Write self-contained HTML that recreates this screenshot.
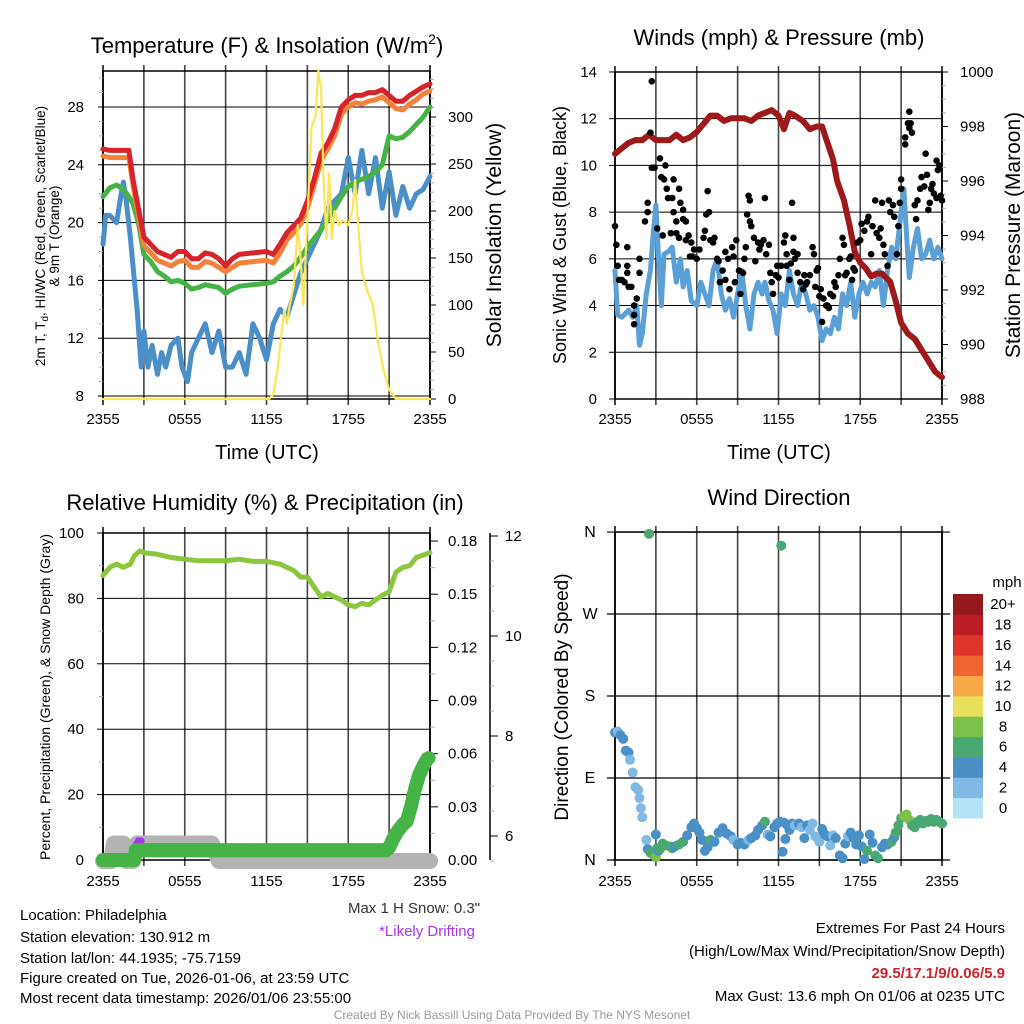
<!DOCTYPE html>
<html><head><meta charset="utf-8"><style>
html,body{margin:0;padding:0;background:#fff;}
svg{display:block;font-family:"Liberation Sans",sans-serif;}
</style></head><body>
<svg id="fig" width="1024" height="1024" viewBox="0 0 1024 1024" xmlns="http://www.w3.org/2000/svg">
<rect width="1024" height="1024" fill="#fff"/>
<g id="p1"></g>
<g id="p2"></g>
<g id="p3"></g>
<g id="p4"></g>
<g font-size="22" text-anchor="middle" fill="#000">
<text x="267" y="53">Temperature (F) &amp; Insolation (W/m<tspan font-size="14" dy="-9">2</tspan><tspan dy="9">)</tspan></text>
<text x="779" y="45">Winds (mph) &amp; Pressure (mb)</text>
<text x="265" y="510">Relative Humidity (%) &amp; Precipitation (in)</text>
<text x="779" y="505">Wind Direction</text>
</g>
<g font-size="15" fill="#000">
<text x="20" y="920">Location: Philadelphia</text>
<text x="20" y="942">Station elevation: 130.912 m</text>
<text x="20" y="963">Station lat/lon: 44.1935; -75.7159</text>
<text x="20" y="983">Figure created on Tue, 2026-01-06, at 23:59 UTC</text>
<text x="20" y="1003">Most recent data timestamp: 2026/01/06 23:55:00</text>
<text x="414" y="913" text-anchor="middle" fill="#333">Max 1 H Snow: 0.3"</text>
<text x="427" y="936" text-anchor="middle" fill="#a335ee">*Likely Drifting</text>
<g text-anchor="end">
<text x="1005" y="933">Extremes For Past 24 Hours</text>
<text x="1005" y="956">(High/Low/Max Wind/Precipitation/Snow Depth)</text>
<text x="1005" y="978" fill="#cc2229" font-weight="bold">29.5/17.1/9/0.06/5.9</text>
<text x="1005" y="1001">Max Gust: 13.6 mph On 01/06 at 0235 UTC</text>
</g>
<text x="512" y="1019" text-anchor="middle" font-size="12" fill="#999">Created By Nick Bassill Using Data Provided By The NYS Mesonet</text>
</g>
</svg>
<script>
// ---------- data ----------
const xTickLabels = ["2355","0555","1155","1755","2355"];
const tempHours = [0,0.5,1,1.5,1.9,2.2,2.6,3,3.5,4,4.5,5,5.5,6,6.5,7,7.5,8,8.5,9,9.5,10,11,12,12.5,13,13.5,14,14.5,15,15.5,16,16.5,17,17.5,18,18.5,19,19.5,20,20.5,21,21.5,22,22.5,23,23.5,24];
const tempRed = [25.1,25,25,25,25,23,21,19,18.5,18,17.8,17.6,18,18,17.5,17.5,17.9,17.8,17.5,17,17.5,17.8,17.9,18,17.8,18.5,19.3,19.8,20.3,21.5,23,24.8,25.5,26.5,28,28.5,28.8,28.8,29,29,29.2,28.8,28.4,28.4,28.8,29.1,29.4,29.6];
const tempOrange = [24.6,24.5,24.5,24.5,24.5,22.6,20.5,18.4,17.9,17.4,17.2,17,17.3,17.4,16.9,16.9,17.3,17.2,16.9,16.6,16.9,17.2,17.3,17.4,17.2,17.9,18.8,19.3,19.9,21,22.6,24.3,25.1,26,27.5,28,28.3,28.2,28.4,28.5,28.7,28.3,27.9,27.8,28.2,28.5,28.9,29.1];
const tempGreen = [21.8,22.4,22.6,22.3,21.8,21.3,20,17.8,17.3,16.6,16.3,15.9,16,15.8,15.4,15.5,15.7,15.6,15.5,15.1,15.4,15.6,15.7,15.8,15.9,16.3,16.6,17,17.6,18.3,18.9,19.5,20.2,21,21.8,22.5,22.8,23,23.2,23.5,24,26,25.8,25.9,26.3,26.8,27.3,28];
const dewHours = [0,0.2,0.5,1,1.3,1.5,1.7,2,2.5,2.8,3,3.3,3.6,4,4.3,4.6,5,5.5,5.8,6.2,6.5,7,7.5,8,8.5,9,9.5,10,10.5,11,11.5,12,12.5,13,13.5,14,14.5,15,15.5,16,16.5,17,17.5,18,18.5,19,19.5,20,20.5,21,21.5,22,22.5,23,23.5,24];
const dewBlue = [18.5,20.5,20.5,20,21.8,22.8,21.5,19,14,10,12.5,10,11.5,9.5,11,10,11.5,12,10,9,11,12,13,11,12.5,10,10,11,9.5,13,12,10.5,13,14,13.5,15,16.5,17.5,18.5,19.5,21,21.5,22,24.5,22,25,22,24.5,21,23.5,20.5,22.5,21,22,22.3,23.2];
const solarHours = [0,12.2,12.5,12.8,13.1,13.3,13.5,13.7,14,14.3,14.5,14.7,15,15.3,15.6,15.8,16,16.2,16.4,16.6,16.8,17,17.3,17.6,18,18.3,18.5,18.7,19,19.4,19.8,20.2,20.6,21,21.5,24];
const solarVals = [0,0,5,30,70,95,80,100,120,185,150,100,190,290,300,350,330,230,170,240,170,200,185,190,185,200,233,190,135,115,100,60,30,10,0,0];

const presHours = [0,0.5,1,1.5,2,2.5,3,3.5,4,4.5,5,5.5,6,6.5,7,7.5,8,8.5,9,9.5,10,10.5,11,11.5,12,12.4,12.8,13.2,13.8,14.3,14.8,15.2,15.6,16,16.3,16.8,17.2,17.6,18,18.4,18.8,19.2,19.6,20.2,20.6,21,21.5,22,22.5,23,23.5,24];
const presVals = [997,997.2,997.4,997.5,997.5,997.7,997.5,997.5,997.5,997.7,997.5,997.6,997.8,998.1,998.4,998.4,998.2,998.3,998.3,998.3,998.2,998.4,998.5,998.6,998.4,997.9,998.5,998.4,998.2,997.9,998,998,997.4,996.8,996,995.3,994.4,993.4,993,992.8,992.5,992.6,992.6,992.3,991.6,990.8,990.4,990.2,989.8,989.4,989,988.8];
const windHours = [0,0.2,0.5,1,1.3,1.6,1.8,2,2.3,2.6,2.8,3,3.2,3.4,3.6,3.9,4.2,4.5,4.8,5,5.3,5.6,6,6.3,6.6,6.9,7.2,7.5,7.8,8.1,8.4,8.7,9,9.3,9.6,9.9,10.2,10.5,10.8,11,11.3,11.6,11.9,12.2,12.5,12.8,13.1,13.4,13.7,14,14.3,14.6,14.9,15.2,15.5,15.8,16.1,16.4,16.7,17,17.3,17.6,17.9,18.2,18.5,18.8,19.1,19.4,19.7,20,20.3,20.6,20.9,21.2,21.4,21.6,21.9,22.2,22.5,22.8,23.1,23.4,23.7,24];
const windVals = [5.5,3.6,3.5,3.8,3.5,4,2.3,2.8,4.5,5.5,7,8.3,6,4,6.2,6.3,6.5,5,6,4.8,5.5,4.2,4,5,4.5,4,5.5,6,4.5,3.8,4.3,3.5,4.5,5.5,4,3,4.5,5,4.5,5,4.2,3.8,2.8,4.5,4,5.5,4.5,4,5,4.5,3.8,4,3.5,2.5,3,2.8,3.5,3,4.5,4,5,3.5,4.5,5,4.5,5,4.8,5.5,4,5.5,6.5,6,7.5,9,7,5.2,6.5,7.3,6,6.2,6.8,6,6.5,6];
const gustHours = [0,0.1,0.2,0.3,0.5,0.7,0.9,0.9,0.9,1,1.2,1.4,1.4,1.4,1.6,1.8,1.8,2.2,2.4,2.4,2.6,2.7,2.7,2.9,3.1,3.3,3.4,3.6,3.5,3.7,3.8,3.9,4.1,4.2,4.3,4.3,4.5,4.5,4.7,4.7,4.8,5,5,5.2,5.2,5.4,5.5,5.6,5.7,5.8,6,6.2,6.5,6.6,6.7,6.8,6.9,7,7.2,7.3,7.5,7.6,7.7,7.9,8.1,8.1,8.3,8.4,8.6,8.7,8.8,8.9,9.1,9.2,9.4,9.5,9.6,9.7,9.8,9.9,9.9,10,10.2,10.3,10.5,10.6,10.7,10.9,11,11.1,11.3,11.4,11.5,11.6,11.8,11.9,12,12.2,12.4,12.5,12.6,12.6,12.8,12.9,13,13.1,13.1,13.2,13.4,13.4,13.6,13.8,13.9,14,14.1,14.3,14.5,14.6,14.7,14.8,14.9,15,15.1,15.2,15.3,15.5,15.6,15.7,15.8,16,16.1,16.2,16.4,16.5,16.7,16.8,16.9,17,17.2,17.3,17.4,17.5,17.6,17.8,18,18.1,18.3,18.5,18.6,18.8,18.9,19.1,19.2,19.4,19.5,19.6,19.7,19.8,20,20.1,20.2,20.4,20.5,20.7,20.8,20.9,21,21,21.3,21.3,21.5,21.6,21.6,21.7,21.8,22,22.1,22.2,22.4,22.5,22.7,22.8,22.9,23,23.1,23.2,23.3,23.4,23.6,23.6,23.7,23.8,23.9,24];
const gustVals = [7.4,6.6,5.7,5.1,5.1,5,6.5,5.7,5.4,4.8,4.8,4,3.6,3.2,4.3,5.4,6,7.6,8,8.4,11.4,13.6,9.9,9.9,7.3,10.3,9.5,9.4,7,10,9,8.6,7.1,8.6,9.4,8,7.1,7.6,6.9,9,8.4,8.1,7.7,6.8,7.6,7,6.1,6.7,6.1,6.4,6,6.4,6.9,7.2,7.9,8.9,8,6.8,6.7,6.9,6,5.9,5,5.5,6.3,5.1,6,4.7,6.5,6.1,5,6.8,5.5,4.5,5.4,6,6.5,7.9,8.7,8.5,7.6,7.4,6.9,5.9,6.7,6.4,6.6,6.8,8.6,6.2,6.6,5.4,5,4.5,5.3,5.7,5.2,5.7,6.7,7,6.2,5.7,5.1,5.8,8.4,6.9,6.3,6,6.2,5.4,5,4.7,5.3,4.9,5,5.3,6.5,6.2,4.8,5.5,5.6,4.4,4.7,3.3,4.3,4,4,3.9,4.5,4.4,5,4.8,5.3,6,6.9,6.6,5.3,5.4,6,6.1,5.1,5.6,5.5,6.7,6.8,7.5,7.2,7.6,7.8,6.2,7.4,8.5,7.1,6.9,7.3,8.4,6.6,6.2,5.7,8.5,8,8.3,7.8,6.2,7.4,8.4,9,9.4,10.9,11.2,11.8,11.6,12.3,11.8,11.4,8.3,7.7,8.5,9,9.5,9.1,10.5,9.6,8.1,8.4,9,9.2,8.8,8.6,10.2,9.8,10,8.7,8.5];

const rhHours = [0,0.5,1,1.5,2,2.3,2.7,3,4,5,6,7,8,9,10,11,12,13,14,14.5,15,15.5,16,16.5,17,17.5,18,18.5,19,19.5,20,20.5,21,21.5,22,22.5,23,24];
const rhVals = [87,89.5,90.5,89.5,90.5,93,94.5,94,93.5,92.5,92,91.5,91.5,91.5,92,91.3,91.3,90.5,88.5,86.5,86.5,83.5,80.5,81.5,80.5,79.5,78,77.5,78.5,78,79.5,81,82,88,89.5,90,92.5,94];
const precipHours = [0,0.5,1,1.5,2,2.3,2.4,3,4,5,6,7,8,9,10,11,12,13,14,15,16,17,18,19,20,20.8,21,21.3,21.6,22,22.3,22.6,22.9,23.2,23.5,23.8,24];
const precipVals = [0,0,0,0,0,0,0.0055,0.0055,0.0055,0.0055,0.0055,0.0055,0.0055,0.0055,0.0055,0.0055,0.0055,0.0055,0.0055,0.0055,0.0055,0.0055,0.0055,0.0055,0.0055,0.0055,0.007,0.012,0.016,0.02,0.022,0.03,0.04,0.048,0.053,0.057,0.058];
const snowHours = [0,0.6,0.8,1.5,1.7,2.2,2.5,8.0,8.5,24];
const snowVals = [5.5,5.5,5.85,5.85,5.5,5.5,5.85,5.85,5.5,5.5];

const dirHours = [0,0.2,0.4,0.6,0.8,1.0,1.1,1.3,1.5,1.7,1.8,1.9,2.0,2.3,2.4,2.5,2.6,2.8,3.0,3.0,3.1,3.2,3.3,3.5,3.7,4.0,4.2,4.4,4.7,5.0,5.3,5.6,5.8,6.0,6.2,6.4,6.6,6.8,7.0,7.3,7.6,7.9,8.2,8.5,8.7,9.0,9.2,9.5,9.8,10.0,10.3,10.5,10.8,11.0,11.2,11.4,11.7,11.9,12.1,12.2,12.3,12.4,12.5,12.6,12.8,13.0,13.2,13.5,13.7,13.9,14.1,14.3,14.5,14.7,15.0,15.2,15.4,15.6,15.8,16.0,16.2,16.5,16.7,16.9,17.1,17.3,17.5,17.7,17.9,18.1,18.3,18.5,18.7,18.9,19.1,19.3,19.6,19.8,20.0,20.3,20.5,20.6,20.8,21.0,21.2,21.4,21.6,21.8,22.0,22.2,22.4,22.6,22.8,23.0,23.2,23.4,23.6,23.8,24.0];
const dirDeg = [140,141,137,133,120,118,110,96,80,77,68,57,47,22,12,358,8,6,3,28,13,10,12,18,16,15,13,15,17,20,27,36,40,35,30,22,10,14,22,20,30,35,29,26,22,17,19,17,22,24,27,33,38,42,28,26,36,40,42,345,9,41,23,39,33,40,38,40,36,24,38,33,40,26,20,34,28,26,16,27,24,5,2,18,26,30,24,17,27,15,1,10,28,19,5,2,14,18,17,20,25,30,38,46,48,50,44,38,36,42,44,40,43,42,45,42,44,42,40];
const dirSpeed = [4,2,4,4,4,4,2,2,2,2,2,2,2,2,4,6,6,6,8,4,6,4,6,6,6,6,6,4,6,6,4,4,4,4,4,4,4,4,6,4,4,4,4,4,2,4,4,4,2,4,4,4,4,6,2,4,4,4,4,6,4,4,4,4,4,4,2,4,2,4,4,2,2,2,2,4,4,4,2,2,4,4,4,4,2,4,4,4,4,4,4,6,4,4,6,6,4,4,4,6,4,6,6,6,8,8,8,6,6,6,6,6,6,6,6,6,6,6,6];
const speedBins = ["0","2","4","6","8","10","12","14","16","18","20+"];
const speedColors = ["#b5e3f7","#80bae4","#4a8fc5","#4aa872","#7cc24a","#e8e05c","#f6a946","#ef6431","#dd3529","#bc1c24","#93191c"];

// ---------- helpers ----------
const NS="http://www.w3.org/2000/svg";
function mk(parent,tag,attrs,text){const e=document.createElementNS(NS,tag);for(const k in attrs)e.setAttribute(k,attrs[k]);if(text!==undefined)e.textContent=text;parent.appendChild(e);return e;}
const PX=13.625;
const TFS=15;
function tx(x0,h){return x0+h*PX;}
function line(parent,hours,vals,x0,ys,color,w,name){
  const pts=hours.map((h,i)=>tx(x0,h).toFixed(1)+","+ys(vals[i]).toFixed(1)).join(" ");
  const e=mk(parent,"polyline",{points:pts,fill:"none",stroke:color,"stroke-width":w,"stroke-linejoin":"round","stroke-linecap":"round"});
  
  
  return e;
}
function frame(g,x0,top,bot,hLines,name){
  for(let i=0;i<=8;i++){const x=x0+i*327/8;
    const v=mk(g,"line",{x1:x,x2:x,y1:top-6,y2:bot+6,stroke:"#444","stroke-width":i%8==0?2:1.6});
    
    }
  hLines.forEach(y=>{const l=mk(g,"line",{x1:x0,x2:x0+327,y1:y,y2:y,stroke:"#000","stroke-width":1});
    
    });
  const r=mk(g,"rect",{x:x0,y:top,width:327,height:bot-top,fill:"none",stroke:"#000","stroke-width":1.5});
  
  
}
function xlabels(g,x0,y,fs){
  xTickLabels.forEach((t,i)=>{const e=mk(g,"text",{x:x0+i*327/4,y:y,"font-size":fs,"text-anchor":"middle"},t);
    
    });
}
function ylab(g,x,y,t,anchor,fs){const e=mk(g,"text",{x:x,y:y+5,"font-size":fs||TFS,"text-anchor":anchor},t);
  
  return e;}
function rot(g,x,y,t,fs,name){const e=mk(g,"text",{x:0,y:0,"font-size":fs,"text-anchor":"middle",transform:`translate(${x},${y}) rotate(-90)`},t);
  
  return e;}

// ---------- panel 1 ----------
(function(){
  const g=document.getElementById("p1"),x0=103;
  const yT=v=>396-(v-8)*14.45, yS=v=>399-v*0.94;
  const tempTicks=[8,12,16,20,24,28];
  frame(g,x0,71,399,tempTicks.map(yT),"temperature");
  tempTicks.forEach(v=>{ylab(g,84,yT(v),String(v),"end");mk(g,"line",{x1:x0-5,x2:x0,y1:yT(v),y2:yT(v),stroke:"#000"});});
  for(let v=9;v<31;v++){if(v%4)mk(g,"line",{x1:x0-4,x2:x0,y1:yT(v),y2:yT(v),stroke:"#aaa"});}
  [0,50,100,150,200,250,300].forEach(v=>{ylab(g,448,yS(v),String(v),"start");mk(g,"line",{x1:430,x2:436,y1:yS(v),y2:yS(v),stroke:"#000"});});
  for(let v=10;v<350;v+=10){if(v%50)mk(g,"line",{x1:430,x2:434,y1:yS(v),y2:yS(v),stroke:"#aaa"});}
  xlabels(g,x0,424,TFS);
  const t=mk(g,"text",{x:267,y:459,"font-size":20,"text-anchor":"middle"},"Time (UTC)");
  
  rot(g,45,236,"2m T",13.5,"y-axis-title-left").innerHTML="2m T, T<tspan font-size='10' dy='3'>d</tspan><tspan dy='-3'>, HI/WC (Red, Green, Scarlet/Blue)</tspan>";
  rot(g,59,236,"& 9m T (Orange)",13.5,"y-axis-title-left-2");
  rot(g,501,235,"Solar Insolation (Yellow)",21,"y-axis-title-right");
  line(g,dewHours,dewBlue,x0,yT,"#4a8fc8",5,"dewpoint-line");
  line(g,tempHours,tempGreen,x0,yT,"#46b347",5,"wetbulb-line");
  line(g,tempHours,tempOrange,x0,yT,"#f5823b",5,"temp-9m-line");
  line(g,tempHours,tempRed,x0,yT,"#d8232a",5,"temp-2m-line");
  line(g,solarHours,solarVals,x0,yS,"#fde555",2.2,"solar-line");
})();

// ---------- panel 2 ----------
(function(){
  const g=document.getElementById("p2"),x0=615;
  const yW=v=>399-v*23.36, yP=v=>399-(v-988)*27.25;
  const wTicks=[0,2,4,6,8,10,12,14];
  frame(g,x0,72,399,wTicks.map(yW),"wind");
  wTicks.forEach(v=>{ylab(g,597,yW(v),String(v),"end");mk(g,"line",{x1:x0-6,x2:x0,y1:yW(v),y2:yW(v),stroke:"#000"});});
  [988,990,992,994,996,998,1000].forEach(v=>{ylab(g,960,yP(v),String(v),"start");mk(g,"line",{x1:942,x2:948,y1:yP(v),y2:yP(v),stroke:"#000"});});
  for(let v=988.5;v<1000;v+=0.5){if(v%2)mk(g,"line",{x1:942,x2:946,y1:yP(v),y2:yP(v),stroke:"#aaa"});}
  xlabels(g,x0,424,TFS);
  const t=mk(g,"text",{x:779,y:459,"font-size":20,"text-anchor":"middle"},"Time (UTC)");
  
  rot(g,566,235,"Sonic Wind & Gust (Blue, Black)",18,"y-axis-title-left");
  rot(g,1020,235,"Station Pressure (Maroon)",21,"y-axis-title-right");
  line(g,windHours,windVals,x0,yW,"#5a9fd6",5,"wind-speed-line");
  line(g,presHours,presVals,x0,yP,"#9e1a1a",6,"pressure-line");
  gustHours.forEach((h,i)=>{const c=mk(g,"circle",{cx:tx(x0,h),cy:yW(gustVals[i]),r:3.3,fill:"#000"});
    
    });
})();

// ---------- panel 3 ----------
(function(){
  const g=document.getElementById("p3"),x0=103;
  const yR=v=>860-v*3.27, yPr=v=>860-v*1772, ySn=v=>836-(v-6)*50;
  const rTicks=[0,20,40,60,80,100];
  frame(g,x0,533,860,rTicks.map(yR),"humidity");
  rTicks.forEach(v=>{ylab(g,84,yR(v),String(v),"end");mk(g,"line",{x1:x0-6,x2:x0,y1:yR(v),y2:yR(v),stroke:"#000"});});
  for(let v=10;v<100;v+=20)mk(g,"line",{x1:x0-4,x2:x0,y1:yR(v),y2:yR(v),stroke:"#aaa"});
  [0,0.03,0.06,0.09,0.12,0.15,0.18].forEach(v=>{ylab(g,448,yPr(v),v.toFixed(2),"start");mk(g,"line",{x1:430,x2:438,y1:yPr(v),y2:yPr(v),stroke:"#000"});});
  for(let v=0.015;v<0.18;v+=0.03)mk(g,"line",{x1:430,x2:435,y1:yPr(v),y2:yPr(v),stroke:"#aaa"});
  mk(g,"line",{x1:490,x2:490,y1:533,y2:860,stroke:"#000","stroke-width":1.5});
  [6,8,10,12].forEach(v=>{ylab(g,505,ySn(v),String(v),"start");mk(g,"line",{x1:490,x2:498,y1:ySn(v),y2:ySn(v),stroke:"#000"});});
  for(let v=5.5;v<12.5;v+=0.5){if(v%2)mk(g,"line",{x1:490,x2:494,y1:ySn(v),y2:ySn(v),stroke:"#aaa"});}
  xlabels(g,x0,886,TFS);
  rot(g,50,697,"Percent, Precipitation (Green), & Snow Depth (Gray)",14,"y-axis-title-left");
  line(g,snowHours,snowVals,x0,ySn,"#b3b3b3",16,"snow-depth-line");
  const pu=mk(g,"polyline",{points:`${tx(x0,2.3)},${ySn(5.75)} ${tx(x0,2.6)},${ySn(5.9)} ${tx(x0,2.8)},${ySn(5.9)}`,fill:"none",stroke:"#a335ee","stroke-width":7,"stroke-linecap":"round"});
  
  for(let i=0;i<precipHours.length-1;i++){
    const n=Math.max(2,Math.round((precipHours[i+1]-precipHours[i])*12));
    for(let k=0;k<n;k++){const f=k/n;const h=precipHours[i]+(precipHours[i+1]-precipHours[i])*f;
      const v=precipVals[i]+(precipVals[i+1]-precipVals[i])*f;
      const c=mk(g,"circle",{cx:tx(x0,h),cy:yPr(v),r:7,fill:"#46b347"});
      
      }
  }
  line(g,rhHours,rhVals,x0,yR,"#8cc63f",5,"humidity-line");
})();

// ---------- panel 4 ----------
(function(){
  const g=document.getElementById("p4"),x0=615;
  const yD=d=>860-d*0.911;
  const dTicks=[0,90,180,270,360], dLabels=["N","E","S","W","N"];
  frame(g,x0,532,860,[],"direction");
  dTicks.forEach((d,i)=>{const l=mk(g,"line",{x1:607,x2:950,y1:yD(d),y2:yD(d),stroke:"#000","stroke-width":1.2});
    
    ylab(g,590,yD(d),dLabels[i],"middle",16);});
  xlabels(g,x0,886,TFS);
  rot(g,568,697,"Direction (Colored By Speed)",19,"y-axis-title-left");
  dirHours.forEach((h,i)=>{const c=mk(g,"circle",{cx:tx(x0,h),cy:yD(dirDeg[i]),r:5,fill:speedColors[Math.min(10,Math.floor(dirSpeed[i]/2))]});
    
    });
  const cb=mk(g,"g",{});
  
  
  const bh=224/11;
  speedBins.forEach((lab,i)=>{const y=818-(i+1)*bh;
    const r=mk(cb,"rect",{x:953,y:y,width:30,height:bh+0.5,fill:speedColors[i]});
    
    
    const t=mk(cb,"text",{x:1003,y:y+bh/2+5,"font-size":15,"text-anchor":"middle"},lab);
    
    });
  const u=mk(cb,"text",{x:1007,y:587,"font-size":15,"text-anchor":"middle"},"mph");
  
  
})();
</script>
</body></html>
